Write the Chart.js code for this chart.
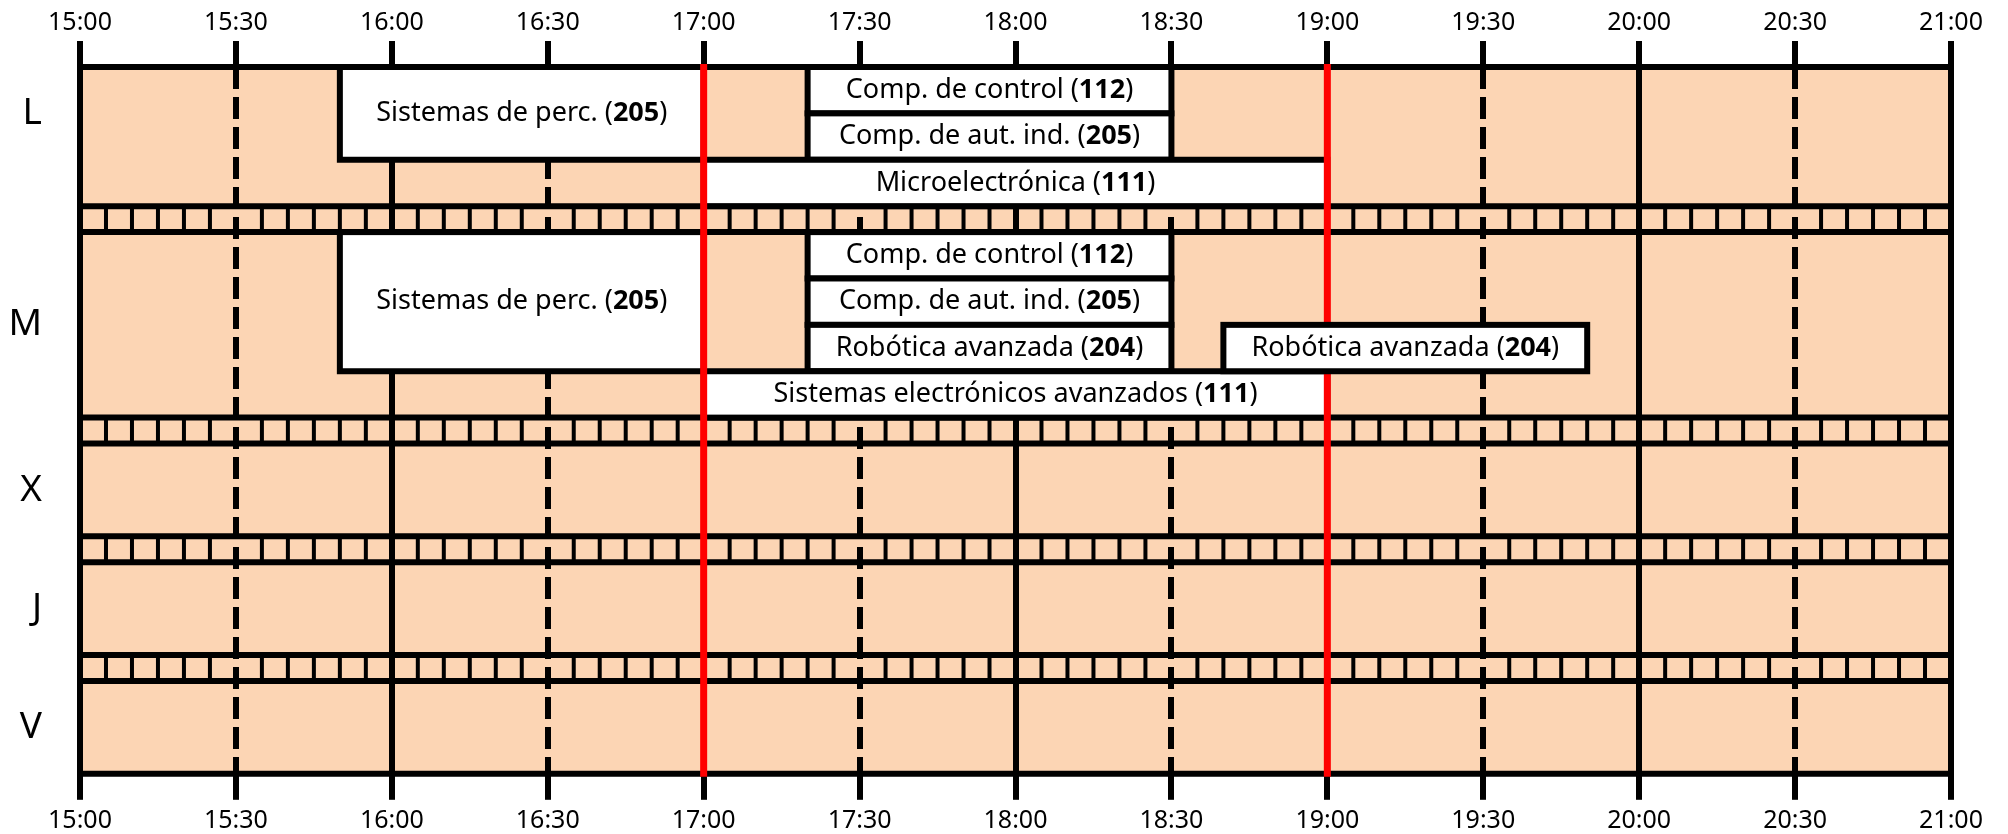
<!DOCTYPE html>
<html>
<head>
<meta charset="utf-8">
<title>Horario</title>
<script src="https://cdn.jsdelivr.net/npm/chart.js@4.4.1/dist/chart.umd.min.js"></script>
<style>
  html, body { margin: 0; padding: 0; background: #fff; }
</style>
</head>
<body>
<canvas id="horario" width="2008" height="834"></canvas>
<script>
// dias y franjas de cada dia
const dias = ['L', 'M', 'X', 'J', 'V'];
const franjasPorDia = [3, 4, 2, 2, 2];
const horasEje = ['15:00', '15:30', '16:00', '16:30', '17:00', '17:30', '18:00',
                  '18:30', '19:00', '19:30', '20:00', '20:30', '21:00'];
const lineasRojas = ['17:00', '19:00'];

// asignaturas
const asignaturas = ['Sistemas de perc.', 'Comp. de control', 'Comp. de aut. ind.', 'Microelectrónica',
                     'Sistemas de perc.', 'Comp. de control', 'Comp. de aut. ind.', 'Robótica avanzada',
                     'Robótica avanzada', 'Sistemas electrónicos avanzados'];
const aulas = ['205', '112', '205', '111', '205', '112', '205', '204', '204', '111'];
const diaAsig = ['L', 'L', 'L', 'L', 'M', 'M', 'M', 'M', 'M', 'M'];
const inicioAsig = ['15:50', '17:20', '17:20', '17:00', '15:50', '17:20', '17:20', '17:20', '18:40', '17:00'];
const finAsig = ['17:00', '18:30', '18:30', '19:00', '17:00', '18:30', '18:30', '18:30', '19:50', '19:00'];
const franjaAsig = [0, 0, 1, 2, 0, 0, 1, 2, 2, 3];
const franjasOcupadas = [2, 1, 1, 1, 3, 1, 1, 1, 1, 1];

const aMin = (h) => {
    const [hh, mm] = h.split(':').map(Number);
    return hh * 60 + mm;
};

// alto de la banda entre dias (en franjas)
const separador = 0.56;
const inicioDia = [];
let acumulado = 0;
franjasPorDia.forEach((n, i) => {
    inicioDia.push(acumulado);
    acumulado += n;
    if (i < dias.length - 1) acumulado += separador;
});
const totalFranjas = acumulado;
const posEtiquetas = dias.map((d, i) => inicioDia[i] + Math.floor(franjasPorDia[i] / 2));

const horaMin = aMin(horasEje[0]);
const horaMax = aMin(horasEje[horasEje.length - 1]);

Chart.defaults.font.family = '"Noto Sans", sans-serif';
Chart.defaults.color = '#000';

const fuenteCaja = '27px "Noto Sans", sans-serif';
const fuenteCajaBold = 'bold 27px "Noto Sans", sans-serif';

const dibujarHorario = {
    id: 'dibujarHorario',
    beforeDraw(chart) {
        const { ctx, chartArea: a } = chart;
        ctx.save();
        ctx.fillStyle = '#fcd5b4';
        ctx.fillRect(a.left, a.top, a.right - a.left, a.bottom - a.top);
        ctx.restore();
    },
    afterDatasetsDraw(chart) {
        const { ctx, chartArea: a, scales: { x, y } } = chart;
        ctx.save();
        ctx.strokeStyle = '#000';

        // rayitas cada 5 minutos en las bandas
        ctx.lineWidth = 4;
        ctx.beginPath();
        for (let i = 0; i < dias.length - 1; i++) {
            const y0 = y.getPixelForValue(inicioDia[i] + franjasPorDia[i]);
            const y1 = y.getPixelForValue(inicioDia[i + 1]);
            for (let m = horaMin + 5; m < horaMax; m += 5) {
                if (m % 30 === 0) continue;
                const px = x.getPixelForValue(m);
                ctx.moveTo(px, y0);
                ctx.lineTo(px, y1);
            }
        }
        ctx.stroke();

        // lineas horizontales
        const bordes = [0];
        dias.forEach((d, i) => {
            bordes.push(inicioDia[i] + franjasPorDia[i]);
            if (i < dias.length - 1) bordes.push(inicioDia[i + 1]);
        });
        ctx.lineWidth = 6;
        ctx.lineCap = 'square';
        ctx.beginPath();
        bordes.forEach((v) => {
            const py = y.getPixelForValue(v);
            ctx.moveTo(a.left, py);
            ctx.lineTo(a.right, py);
        });
        ctx.stroke();
        ctx.lineCap = 'butt';

        const caja = (i) => {
            const d = dias.indexOf(diaAsig[i]);
            const x0 = x.getPixelForValue(aMin(inicioAsig[i]));
            const x1 = x.getPixelForValue(aMin(finAsig[i]));
            const y0 = y.getPixelForValue(inicioDia[d] + franjaAsig[i]);
            const y1 = y.getPixelForValue(inicioDia[d] + franjaAsig[i] + franjasOcupadas[i]);
            ctx.fillStyle = '#fff';
            ctx.fillRect(x0, y0, x1 - x0, y1 - y0);
            ctx.lineWidth = 6;
            ctx.strokeStyle = '#000';
            ctx.lineJoin = 'miter';
            ctx.strokeRect(x0, y0, x1 - x0, y1 - y0);

            // texto con el aula en negrita
            const partes = [[asignaturas[i] + ' (', fuenteCaja], [aulas[i], fuenteCajaBold], [')', fuenteCaja]];
            let ancho = 0;
            partes.forEach((p) => { ctx.font = p[1]; ancho += ctx.measureText(p[0]).width; });
            let tx = (x0 + x1) / 2 - ancho / 2;
            const ty = (y0 + y1) / 2;
            ctx.fillStyle = '#000';
            ctx.textBaseline = 'middle';
            ctx.textAlign = 'left';
            partes.forEach((p) => {
                ctx.font = p[1];
                ctx.fillText(p[0], tx, ty);
                tx += ctx.measureText(p[0]).width;
            });
        };

        // las cajas que cruzan una linea roja la tapan
        const cruzaLinea = (i) => lineasRojas.some((h) => aMin(h) > aMin(inicioAsig[i]) && aMin(h) < aMin(finAsig[i]));
        asignaturas.forEach((n, i) => { if (!cruzaLinea(i)) caja(i); });

        ctx.strokeStyle = '#ff0000';
        ctx.lineWidth = 7;
        ctx.beginPath();
        lineasRojas.forEach((h) => {
            const px = x.getPixelForValue(aMin(h));
            ctx.moveTo(px, a.top - 3);
            ctx.lineTo(px, a.bottom + 3);
        });
        ctx.stroke();

        asignaturas.forEach((n, i) => { if (cruzaLinea(i)) caja(i); });
        ctx.restore();
    }
};

const discontinua = (c) => (c.tick && c.tick.value % 60 !== 0) ? [22, 8] : [];

new Chart(document.getElementById('horario'), {
    type: 'scatter',
    data: { datasets: [] },
    options: {
        responsive: false,
        devicePixelRatio: 1,
        animation: false,
        layout: { padding: { left: 0, right: 57, top: 0, bottom: 0 } },
        plugins: { legend: { display: false }, tooltip: { enabled: false } },
        scales: {
            x: {
                type: 'linear',
                position: 'top',
                min: horaMin,
                max: horaMax,
                ticks: {
                    stepSize: 30, autoSkip: false, maxRotation: 0, padding: 3,
                    font: { size: 25 },
                    callback: (v, i) => horasEje[i]
                },
                grid: {
                    color: '#000', lineWidth: 6, drawOnChartArea: true, drawTicks: true,
                    tickLength: 26, tickWidth: 6, tickColor: '#000', tickBorderDash: []
                },
                border: { display: false, dash: discontinua },
                afterFit: (s) => { s.height = 67; }
            },
            x2: {
                type: 'linear',
                position: 'bottom',
                min: horaMin,
                max: horaMax,
                ticks: {
                    stepSize: 30, autoSkip: false, maxRotation: 0, padding: 6,
                    font: { size: 25 },
                    callback: (v, i) => horasEje[i]
                },
                grid: {
                    color: '#000', lineWidth: 6, drawOnChartArea: false, drawTicks: true,
                    tickLength: 26, tickWidth: 6, tickColor: '#000', tickBorderDash: []
                },
                border: { display: false },
                afterFit: (s) => { s.height = 60; }
            },
            y: {
                type: 'linear',
                position: 'left',
                min: 0,
                max: totalFranjas,
                reverse: true,
                afterBuildTicks: (s) => { s.ticks = posEtiquetas.map((v) => ({ value: v })); },
                ticks: {
                    autoSkip: false, padding: 38,
                    font: { size: 37 },
                    callback: (v, i) => dias[i]
                },
                grid: { display: false, drawTicks: false },
                border: { display: false },
                afterFit: (s) => { s.width = 80; }
            }
        }
    },
    plugins: [dibujarHorario]
});
</script>
</body>
</html>
